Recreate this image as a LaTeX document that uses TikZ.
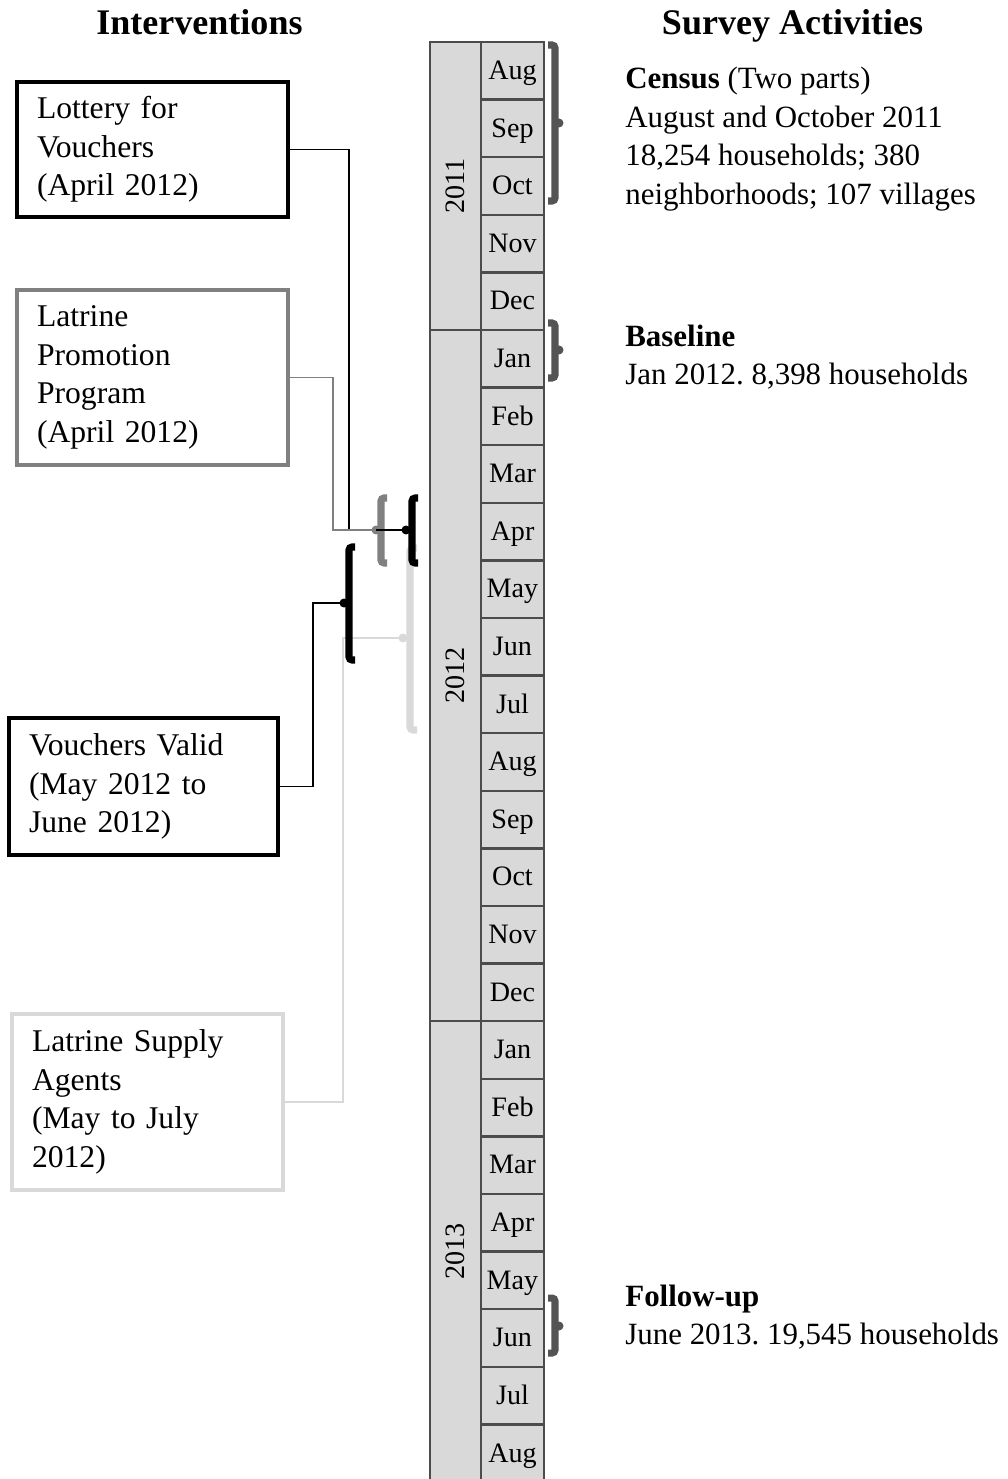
\documentclass[tikz,border=0pt]{standalone}
\usepackage{fontspec}
\setmainfont{Liberation Serif}
\frenchspacing

\begin{document}
\begin{tikzpicture}[x=0.02cm,y=-0.02cm,font=\fontsize{18}{21.9}\selectfont,
    line/.style={draw, line width=1.1pt},
    brace/.style={draw, line width=4pt, rounded corners=0.06cm},
    event/.style={draw, line width=2pt, text width=4.62cm, inner xsep=0.4cm, align=left},
    month/.style={draw=black!70, fill=black!15, line width=1.4pt, minimum width=1.26cm,
        minimum height=1.152cm, inner sep=0pt, text height=11pt, text depth=1pt,
        font=\fontsize{16}{19}\selectfont},
    year/.style={draw=black!70, fill=black!15, line width=1.4pt, rotate=90,
        minimum height=1.02cm, inner sep=0pt, font=\fontsize{16}{19}\selectfont},
    title/.style={anchor=base, font=\fontsize{20.5}{24}\selectfont\bfseries},
    note/.style={anchor=west, align=left, inner sep=0pt, font=\fontsize{17.6}{21.9}\selectfont},
    ]
    \useasboundingbox (0,0) rectangle (1007,1479);

    % Titles
    \node [title] (int) at (199.5,35) {Interventions};
    \node [title] (sur) at (792.5,35) {Survey Activities};

    % Timeline
    \node [year, minimum width=5.76cm] (y2011) at (455.5,186) {2011};
    \node [year, minimum width=13.824cm] (y2012) at (455.5,675.6) {2012};
    \node [year, minimum width=9.216cm] (y2013) at (455.5,1251.6) {2013};
    \foreach \m [count=\i] in {Aug,Sep,Oct,Nov,Dec,Jan,Feb,Mar,Apr,May,Jun,Jul,Aug,
        Sep,Oct,Nov,Dec,Jan,Feb,Mar,Apr,May,Jun,Jul,Aug}
        \node [month] (m\i) at (512.5,{42+57.6*(\i-0.5)}) {\m};

    % Interventions
    \node [event, minimum height=2.7cm] (lot) at (152.5,149.5) {Lottery for\\Vouchers\\(April 2012)};
    \node [event, draw=black!50, minimum height=3.5cm] (pro) at (152.5,377.5) {Latrine\\Promotion\\Program\\(April 2012)};
    \node [event, text width=4.58cm, minimum height=2.74cm] (val) at (143.5,786.5) {Vouchers Valid\\(May 2012 to\\June 2012)};
    \node [event, draw=black!15, minimum height=3.52cm] (sup) at (147.5,1102) {Latrine Supply\\Agents\\(May to July\\2012)};

    % Survey activities
    \node [note] (cen) at (625,139) {\textbf{Census} (Two parts)\\August and October 2011\\18,254 households; 380\\neighborhoods; 107 villages};
    \node [note] (bas) at (625,357) {\textbf{Baseline}\\Jan 2012. 8,398 households};
    \node [note] (fol) at (625,1317) {\textbf{Follow-up}\\June 2013. 19,545 households};

    % Bracket tips
    \coordinate (lot-tip) at (406,530);
    \coordinate (pro-tip) at (376,530);
    \coordinate (val-tip) at (344,603);
    \coordinate (sup-tip) at (403,638);

    % Draw edges
    \path [line, draw=black!15] (sup.east) -- ++(58,0) |- (sup-tip);
    \path [brace, draw=black!15] (417,548) -- (410,548) -- (410,730) -- (417,730);
    \fill [black!15] (sup-tip) circle (0.09cm);

    \path [line] (lot.east) -- ++(59,0) |- (lot-tip);
    \path [line, draw=black!50] (pro.east) -- ++(43,0) |- (pro-tip);
    \path [brace, draw=black!50] (387,498) -- (381,498) -- (381,563) -- (387,563);
    \fill [black!50] (pro-tip) circle (0.09cm);
    \path [line] (pro-tip) -- (lot-tip);
    \path [brace] (418,498) -- (412,498) -- (412,563) -- (418,563);
    \fill (lot-tip) circle (0.09cm);

    \path [line] (val.east) -- ++(33,0) |- (val-tip);
    \path [brace] (355,547) -- (349,547) -- (349,660) -- (355,660);
    \fill (val-tip) circle (0.09cm);

    % Survey brackets
    \path [brace, draw=black!67] (548,45) -- (555,45) -- (555,201) -- (548,201);
    \fill [black!67] (559,123) circle (0.09cm);
    \path [brace, draw=black!67] (548,323) -- (555,323) -- (555,378) -- (548,378);
    \fill [black!67] (559,350) circle (0.09cm);
    \path [brace, draw=black!67] (548,1298) -- (555,1298) -- (555,1353) -- (548,1353);
    \fill [black!67] (559,1326) circle (0.09cm);
\end{tikzpicture}
\end{document}
